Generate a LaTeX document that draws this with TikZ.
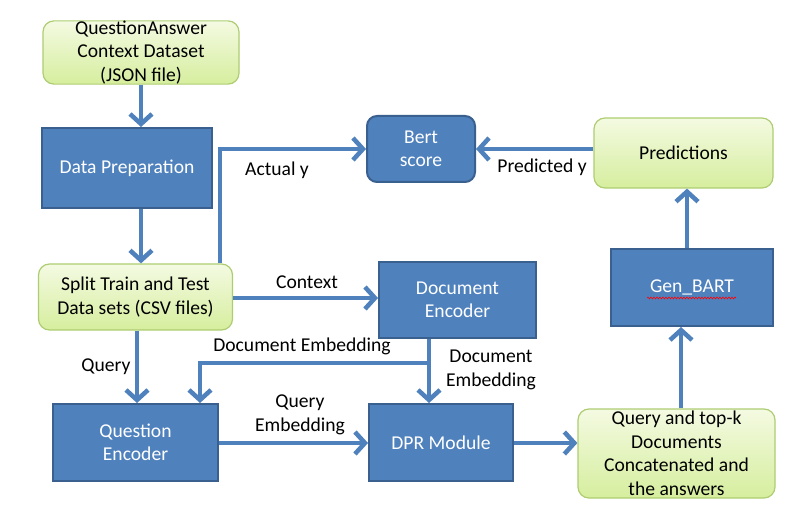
\documentclass[tikz,border=0pt]{standalone}
\usepackage{fontspec}
\setmainfont{Carlito}
\usetikzlibrary{arrows.meta,decorations.pathmorphing,calc}
\definecolor{bfill}{HTML}{4F81BD}
\definecolor{bdraw}{HTML}{3A6090}
\definecolor{gtop}{HTML}{F4FAE2}
\definecolor{gbot}{HTML}{D6EE9E}
\definecolor{gdraw}{HTML}{AECD72}
\definecolor{arr}{HTML}{4F81BD}
\tikzset{
  bluebox/.style={draw=bdraw, line width=2pt, fill=bfill, text=white, inner sep=0pt, align=center},
  greenbox/.style={draw=gdraw, line width=1.2pt, rounded corners=11pt, top color=gtop, bottom color=gbot, inner sep=0pt, align=center},
  flow/.style={draw=arr, line width=4.5pt, -{Straight Barb[length=10pt,width=22pt]}},
  lbl/.style={inner sep=0pt, align=center, text=black}
}
\begin{document}
\begin{tikzpicture}[x=1pt,y=-1pt,font=\fontsize{19.6}{23.5}\selectfont]
\useasboundingbox[fill=white] (0,0) rectangle (800,521);
% nodes
\node[greenbox, minimum width=196pt, minimum height=62pt] (qa) at (141,52.5) {QuestionAnswer\\Context Dataset\\(JSON file)};
\node[bluebox, minimum width=170pt, minimum height=80pt] (prep) at (127,168) {Data Preparation};
\node[greenbox, minimum width=194pt, minimum height=66pt] (split) at (135.5,297) {Split Train and Test\\Data sets (CSV files)};
\node[bluebox, rounded corners=10pt, minimum width=108pt, minimum height=66pt] (bert) at (421,149) {Bert\\score};
\node[greenbox, minimum width=179pt, minimum height=70pt] (pred) at (683.5,153) {Predictions};
\node[bluebox, minimum width=157pt, minimum height=76pt] (doc) at (457.5,300) {Document\\Encoder};
\node[bluebox, minimum width=162pt, minimum height=77pt] (gen) at (692,287.5) {Gen\_BART};
\node[bluebox, minimum width=165pt, minimum height=77pt] (qe) at (135.5,442.5) {Question\\Encoder};
\node[bluebox, minimum width=144pt, minimum height=77pt] (dpr) at (441,442.5) {DPR Module};
\node[greenbox, minimum width=197pt, minimum height=89pt] (qtk) at (676.5,453.5) {Query and top-k\\Documents\\Concatenated and\\the answers};
% spell-check underline
\coordinate (ul1) at (647,298);
\coordinate (ul2) at (736,298);
\draw[red, line width=0.6pt, decorate, decoration={snake, amplitude=0.9pt, segment length=3pt}] (ul1) -- (ul2);
% x positions
\coordinate (xa) at (141,0);
\coordinate (xy) at (220,0);
\coordinate (xq) at (137,0);
\coordinate (xd) at (429,0);
\coordinate (xb) at (200,0);
\coordinate (xg) at (681,0);
\coordinate (xp) at (687,0);
\coordinate (ybr) at (0,363);
\coordinate (yctx) at (0,298);
\coordinate (yqe) at (0,443);
% connectors
\draw[flow] (qa.south -| xa) -- (prep.north -| xa);
\draw[flow] (prep.south -| xa) -- (split.north -| xa);
\draw[flow] (split.north -| xy) -- (bert.west -| xy) -- (bert.west);
\draw[flow] (pred.west |- bert.east) -- (bert.east);
\draw[flow] (split.east |- yctx) -- (doc.west |- yctx);
\draw[flow] (doc.south -| xd) -- (dpr.north -| xd);
\draw[flow] (xd |- ybr) -- (xb |- ybr) -- (qe.north -| xb);
\draw[flow] (split.south -| xq) -- (qe.north -| xq);
\draw[flow] (qe.east |- yqe) -- (dpr.west |- yqe);
\draw[flow] (dpr.east |- yqe) -- (qtk.west |- yqe);
\draw[flow] (qtk.north -| xg) -- (gen.south -| xg);
\draw[flow] (gen.north -| xp) -- (pred.south -| xp);
% labels
\node[lbl] (l1) at (277,170) {Actual y};
\node[lbl] (l2) at (542,167) {Predicted y};
\node[lbl] (l3) at (307,282) {Context};
\node[lbl] (l4) at (302,346) {Document Embedding};
\node[lbl] (l5) at (491,370) {Document\\Embedding};
\node[lbl] (l6) at (106,367) {Query};
\node[lbl] (l7) at (300,415) {Query\\Embedding};
\end{tikzpicture}
\end{document}
